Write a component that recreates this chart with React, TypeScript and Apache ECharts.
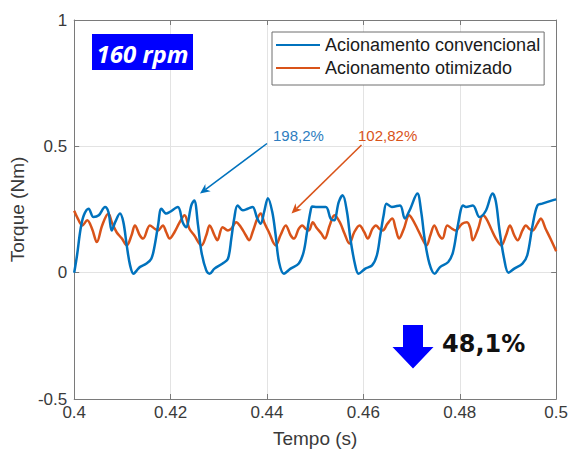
import React, { useEffect, useRef } from "react";
import * as echarts from "echarts";

const seriesNames = ["Acionamento convencional", "Acionamento otimizado"];
const xTicks = { min: 0.4, max: 0.5, interval: 0.02 };
const yTicks = { min: -0.5, max: 1, interval: 0.5 };

const blueTime = [0.4000, 0.4006, 0.4013, 0.4020, 0.4030, 0.4040, 0.4051, 0.4064, 0.4071, 0.4078, 0.4085, 0.4095, 0.4102, 0.4109, 0.4116, 0.4123, 0.4130, 0.4136, 0.4150, 0.4160, 0.4167, 0.4174, 0.4181, 0.4191, 0.4198, 0.4215, 0.4225, 0.4232, 0.4243, 0.4249, 0.4257, 0.4264, 0.4274, 0.4281, 0.4291, 0.4308, 0.4319, 0.4326, 0.4332, 0.4339, 0.4350, 0.4360, 0.4370, 0.4380, 0.4387, 0.4394, 0.4402, 0.4411, 0.4418, 0.4425, 0.4435, 0.4449, 0.4466, 0.4476, 0.4483, 0.4490, 0.4494, 0.4504, 0.4522, 0.4532, 0.4539, 0.4549, 0.4557, 0.4566, 0.4573, 0.4583, 0.4590, 0.4604, 0.4618, 0.4628, 0.4635, 0.4642, 0.4648, 0.4659, 0.4676, 0.4686, 0.4696, 0.4712, 0.4720, 0.4727, 0.4737, 0.4748, 0.4759, 0.4776, 0.4786, 0.4796, 0.4807, 0.4813, 0.4827, 0.4841, 0.4854, 0.4868, 0.4875, 0.4882, 0.4892, 0.4901, 0.4913, 0.4930, 0.4940, 0.4951, 0.4961, 0.4971, 0.4992, 0.5000];
const blueTorque = [0.0, 0.07, 0.17, 0.227, 0.253, 0.22, 0.227, 0.26, 0.24, 0.167, 0.2, 0.234, 0.2, 0.108, 0.029, -0.004, 0.009, 0.022, 0.036, 0.055, 0.108, 0.187, 0.253, 0.234, 0.24, 0.26, 0.2, 0.18, 0.266, 0.286, 0.187, 0.082, 0.009, -0.004, 0.016, 0.036, 0.055, 0.135, 0.214, 0.266, 0.247, 0.253, 0.26, 0.214, 0.194, 0.24, 0.295, 0.24, 0.148, 0.042, -0.004, 0.016, 0.036, 0.082, 0.16, 0.24, 0.262, 0.26, 0.26, 0.214, 0.207, 0.28, 0.306, 0.24, 0.135, 0.029, -0.004, 0.016, 0.029, 0.069, 0.148, 0.227, 0.273, 0.26, 0.266, 0.214, 0.247, 0.313, 0.24, 0.135, 0.036, -0.004, 0.022, 0.042, 0.082, 0.187, 0.266, 0.26, 0.266, 0.22, 0.245, 0.313, 0.28, 0.174, 0.055, 0.0, 0.016, 0.036, 0.069, 0.187, 0.266, 0.273, 0.286, 0.29];

const redTime = [0.4000, 0.4006, 0.4017, 0.4027, 0.4037, 0.4047, 0.4058, 0.4071, 0.4078, 0.4088, 0.4099, 0.4109, 0.4119, 0.4126, 0.4136, 0.4143, 0.4157, 0.4167, 0.4174, 0.4184, 0.4191, 0.4198, 0.4208, 0.4219, 0.4229, 0.4239, 0.4249, 0.4264, 0.4274, 0.4281, 0.4291, 0.4297, 0.4308, 0.4319, 0.4326, 0.4336, 0.4346, 0.4356, 0.4363, 0.4370, 0.4380, 0.4387, 0.4394, 0.4404, 0.4418, 0.4428, 0.4439, 0.4449, 0.4456, 0.4466, 0.4473, 0.4480, 0.4487, 0.4495, 0.4502, 0.4513, 0.4520, 0.4530, 0.4540, 0.4551, 0.4561, 0.4571, 0.4581, 0.4592, 0.4602, 0.4609, 0.4619, 0.4626, 0.4633, 0.4640, 0.4650, 0.4660, 0.4667, 0.4674, 0.4684, 0.4695, 0.4701, 0.4712, 0.4722, 0.4731, 0.4739, 0.4747, 0.4757, 0.4764, 0.4774, 0.4784, 0.4791, 0.4805, 0.4815, 0.4822, 0.4827, 0.4838, 0.4848, 0.4855, 0.4865, 0.4875, 0.4886, 0.4896, 0.4904, 0.4913, 0.4920, 0.4930, 0.4937, 0.4944, 0.4951, 0.4961, 0.4968, 0.4978, 0.4988, 0.5000];
const redTorque = [0.245, 0.22, 0.187, 0.207, 0.174, 0.121, 0.187, 0.234, 0.2, 0.16, 0.135, 0.108, 0.148, 0.187, 0.148, 0.135, 0.187, 0.174, 0.167, 0.187, 0.16, 0.135, 0.16, 0.2, 0.227, 0.174, 0.148, 0.108, 0.148, 0.187, 0.148, 0.128, 0.18, 0.167, 0.174, 0.2, 0.18, 0.148, 0.128, 0.16, 0.214, 0.234, 0.2, 0.16, 0.108, 0.148, 0.187, 0.148, 0.135, 0.174, 0.187, 0.174, 0.167, 0.2, 0.18, 0.154, 0.135, 0.187, 0.227, 0.2, 0.154, 0.115, 0.16, 0.187, 0.16, 0.135, 0.174, 0.187, 0.174, 0.167, 0.194, 0.214, 0.174, 0.135, 0.174, 0.227, 0.214, 0.174, 0.135, 0.108, 0.148, 0.187, 0.148, 0.135, 0.187, 0.174, 0.167, 0.194, 0.2, 0.174, 0.128, 0.174, 0.227, 0.214, 0.174, 0.135, 0.108, 0.148, 0.187, 0.148, 0.128, 0.167, 0.187, 0.174, 0.167, 0.194, 0.214, 0.174, 0.135, 0.085];

const annotations = { speed: "160 rpm", blueLabel: "198,2%", redLabel: "102,82%", reduction: "48,1%" };

const BLUE = "#0072BD";
const ORANGE = "#D95319";
const AXIS = "#7a7a7a";
const LABEL = "#3a3a3a";
const FONT = "Liberation Sans";

function arrow(x1: number, y1: number, x2: number, y2: number, color: string) {
  const dx = x2 - x1, dy = y2 - y1;
  const len = Math.hypot(dx, dy);
  const ux = dx / len, uy = dy / len;
  const px = -uy, py = ux;
  const hl = 10, hw = 4.5;
  const bx = x2 - ux * hl, by = y2 - uy * hl;
  const nx = x2 - ux * hl * 0.7, ny = y2 - uy * hl * 0.7;
  return [
    { type: "line", shape: { x1, y1, x2: nx, y2: ny }, style: { stroke: color, lineWidth: 1.5 }, z: 10 },
    {
      type: "polygon",
      shape: { points: [[x2, y2], [bx + px * hw, by + py * hw], [nx, ny], [bx - px * hw, by - py * hw]] },
      style: { fill: color },
      z: 10,
    },
  ];
}

export default function App() {
  const ref = useRef<HTMLDivElement>(null);
  useEffect(() => {
    document.body.style.margin = "0";
    const chart = echarts.init(ref.current!, null, { renderer: "svg" });
    const blueData = blueTime.map((t, i) => [t, blueTorque[i]]);
    const redData = redTime.map((t, i) => [t, redTorque[i]]);
    const axisCommon = {
      axisLine: { show: true, onZero: false, lineStyle: { color: AXIS, width: 1 } },
      axisTick: { show: true, inside: true, length: 5, lineStyle: { color: AXIS } },
    };
    chart.setOption({
      animation: false,
      backgroundColor: "#ffffff",
      grid: { left: 72, right: 13, top: 20, bottom: 54, containLabel: false },
      legend: {
        data: seriesNames,
        orient: "vertical",
        left: 272,
        top: 32,
        padding: [4, 4, 8, 4],
        itemGap: 5,
        itemWidth: 44,
        itemHeight: 2,
        icon: "rect",
        backgroundColor: "#ffffff",
        borderColor: "#6e6e6e",
        borderWidth: 1,
        textStyle: { fontSize: 18, fontFamily: FONT, color: "#1a1a1a" },
        z: 20,
      },
      xAxis: [
        {
          type: "value",
          min: xTicks.min,
          max: xTicks.max,
          interval: xTicks.interval,
          position: "bottom",
          name: "Tempo (s)",
          nameLocation: "middle",
          nameGap: 30,
          nameTextStyle: { fontSize: 19, fontFamily: FONT, color: LABEL },
          ...axisCommon,
          axisLabel: { fontSize: 17, fontFamily: FONT, color: LABEL, margin: 5, showMinLabel: true, showMaxLabel: true },
          splitLine: { show: true, lineStyle: { color: "#e3e3e3", width: 1 } },
        },
        {
          type: "value",
          min: xTicks.min,
          max: xTicks.max,
          interval: xTicks.interval,
          position: "top",
          ...axisCommon,
          axisLabel: { show: false },
          splitLine: { show: false },
        },
      ],
      yAxis: [
        {
          type: "value",
          min: yTicks.min,
          max: yTicks.max,
          interval: yTicks.interval,
          position: "left",
          name: "Torque (Nm)",
          nameLocation: "middle",
          nameGap: 44,
          nameTextStyle: { fontSize: 19, fontFamily: FONT, color: LABEL },
          ...axisCommon,
          axisLabel: { fontSize: 17, fontFamily: FONT, color: LABEL, margin: 7 },
          splitLine: { show: true, lineStyle: { color: "#e3e3e3", width: 1 } },
        },
        {
          type: "value",
          min: yTicks.min,
          max: yTicks.max,
          interval: yTicks.interval,
          position: "right",
          ...axisCommon,
          axisLabel: { show: false },
          splitLine: { show: false },
        },
      ],
      series: [
        {
          name: seriesNames[0],
          type: "line",
          data: blueData,
          xAxisIndex: 0,
          yAxisIndex: 0,
          smooth: 0.35,
          symbol: "none",
          showSymbol: false,
          lineStyle: { color: BLUE, width: 2.5 },
          itemStyle: { color: BLUE },
          z: 3,
        },
        {
          name: seriesNames[1],
          type: "line",
          data: redData,
          xAxisIndex: 0,
          yAxisIndex: 0,
          smooth: 0.35,
          symbol: "none",
          showSymbol: false,
          lineStyle: { color: ORANGE, width: 2.5 },
          itemStyle: { color: ORANGE },
          z: 2,
        },
      ],
      graphic: [
        { type: "rect", shape: { x: 92, y: 34, width: 101, height: 36 }, style: { fill: "#0000FF" }, z: 10 },
        {
          type: "text",
          x: 142.5,
          y: 53,
          style: {
            text: annotations.speed,
            fill: "#ffffff",
            fontSize: 24,
            fontWeight: "bold",
            fontStyle: "italic",
            fontFamily: "Open Sans",
            align: "center",
            verticalAlign: "middle",
          },
          z: 11,
        },
        {
          type: "text",
          x: 273,
          y: 135,
          style: { text: annotations.blueLabel, fill: "#2E7DC0", fontSize: 15, fontFamily: FONT, verticalAlign: "middle" },
          z: 10,
        },
        {
          type: "text",
          x: 358,
          y: 135,
          style: { text: annotations.redLabel, fill: ORANGE, fontSize: 15, fontFamily: FONT, verticalAlign: "middle" },
          z: 10,
        },
        ...arrow(267, 143.5, 200, 193.5, BLUE),
        ...arrow(361.5, 145, 291.5, 213.5, ORANGE),
        {
          type: "polygon",
          shape: { points: [[403, 325], [423, 325], [423, 347], [433.5, 347], [413, 368.5], [392.5, 347], [403, 347]] },
          style: { fill: "#0000FF" },
          z: 10,
        },
        {
          type: "text",
          x: 442,
          y: 344,
          style: {
            text: annotations.reduction,
            fill: "#111111",
            fontSize: 24,
            fontWeight: "bold",
            fontFamily: "DejaVu Sans",
            verticalAlign: "middle",
          },
          z: 10,
        },
      ],
    });
    return () => chart.dispose();
  }, []);
  return <div ref={ref} style={{ width: 571, height: 453 }} />;
}
